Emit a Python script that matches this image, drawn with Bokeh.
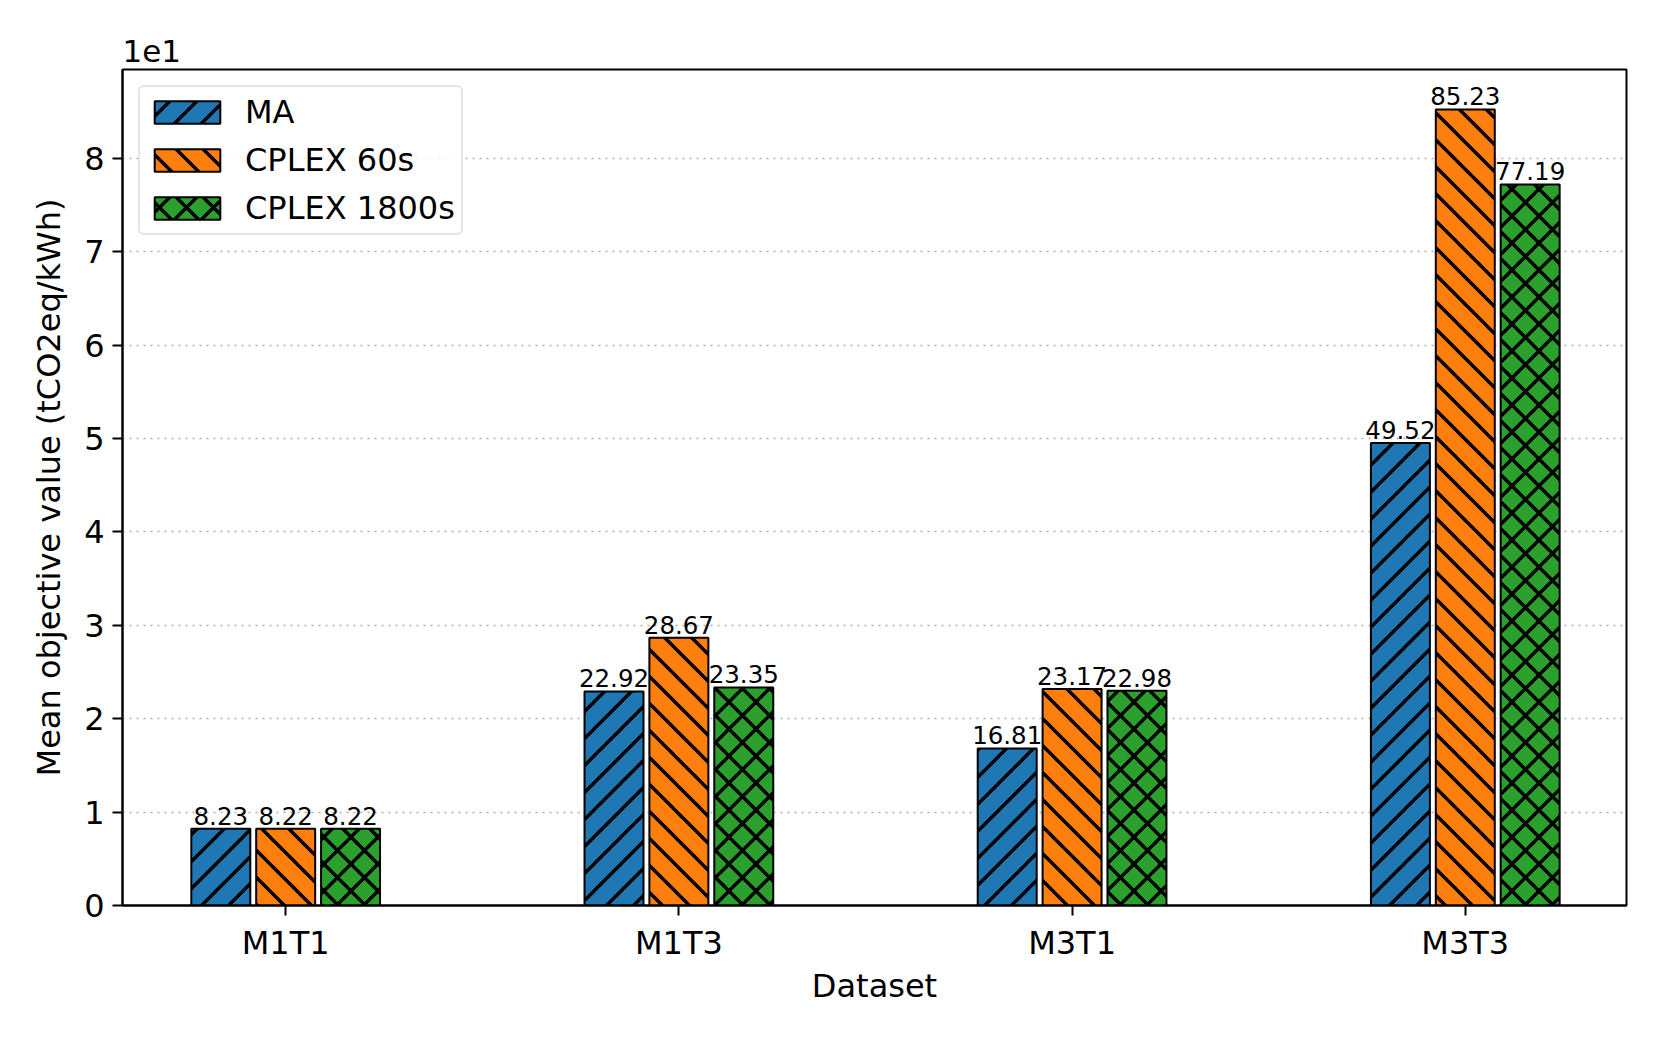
import base64
from bokeh.plotting import figure
from bokeh.models import (Range1d, FixedTicker, Legend, LegendItem,
                          ColumnDataSource, ImageURLTexture)
from bokeh.transform import dodge
from bokeh.core.properties import value
from bokeh.embed import file_html
from bokeh.resources import INLINE

# ---- data ----
datasets = ["M1T1", "M1T3", "M3T1", "M3T3"]
ma = [8.23, 22.92, 16.81, 49.52]
cplex_60s = [8.22, 28.67, 23.17, 85.23]
cplex_1800s = [8.22, 23.35, 22.98, 77.19]
series_names = ["MA", "CPLEX 60s", "CPLEX 1800s"]
y_ticks = [0, 1, 2, 3, 4, 5, 6, 7, 8]
scale_exp = 1  # axis shown in units of 1e1

# ---- style ----
colors = ["#1f77b4", "#ff7f0e", "#2ca02c"]
FONT = "DejaVu Sans"
factor = 10 ** scale_exp
offsets = [-0.165, 0.0, 0.165]
bar_w = 0.15

# 45-degree hatch textures (matplotlib-like "//", "\\", "xx")
T = 27
SW = 3.4
fwd = (f'<line x1="-5" y1="5" x2="5" y2="-5"/>'
       f'<line x1="-5" y1="{T+5}" x2="{T+5}" y2="-5"/>'
       f'<line x1="{T-5}" y1="{T+5}" x2="{T+5}" y2="{T-5}"/>')
bwd = (f'<line x1="-5" y1="-5" x2="{T+5}" y2="{T+5}"/>'
       f'<line x1="{T-5}" y1="-5" x2="{T+5}" y2="5"/>'
       f'<line x1="-5" y1="{T-5}" x2="5" y2="{T+5}"/>')


def tex(body):
    svg = (f'<svg xmlns="http://www.w3.org/2000/svg" width="{T}" height="{T}" '
           f'viewBox="0 0 {T} {T}"><g stroke="black" stroke-width="{SW}" '
           f'fill="none">{body}</g></svg>')
    return ImageURLTexture(url="data:image/svg+xml;base64," +
                           base64.b64encode(svg.encode()).decode())


hatch_extra = {"mpl_fwd": tex(fwd), "mpl_bwd": tex(bwd),
               "mpl_cross": tex(fwd + bwd)}
hatches = ["mpl_fwd", "mpl_bwd", "mpl_cross"]

xs = list(range(len(datasets)))
series = [ma, cplex_60s, cplex_1800s]

p = figure(width=1645, height=1022, output_backend="svg", toolbar_location=None,
           x_range=Range1d(-0.415, 3.41), y_range=Range1d(0, 8.95),
           min_border_left=122, min_border_right=19, min_border_top=69,
           min_border_bottom=117)

p.background_fill_color = "white"
p.border_fill_color = "white"
p.outline_line_color = "black"
p.outline_line_width = 2

legend_items = []
for name, vals, col, hat, off in zip(series_names, series, colors, hatches, offsets):
    src = ColumnDataSource(dict(
        x=xs,
        y=[v / factor for v in vals],
        lab=[f"{v:.2f}" for v in vals],
    ))
    r = p.vbar(x=dodge("x", off, range=p.x_range), top="y", width=bar_w, source=src,
               fill_color=col, line_color="black", line_width=2,
               hatch_pattern=value(hat), hatch_extra=hatch_extra)
    p.text(x=dodge("x", off, range=p.x_range), y="y", text="lab", source=src,
           text_align="center", text_baseline="bottom", y_offset=-4,
           text_font=value(FONT), text_font_size="24.5px", text_color="black")
    legend_items.append(LegendItem(label=name, renderers=[r]))

legend = Legend(items=legend_items, location="top_left", margin=16, padding=6,
                spacing=10, glyph_width=82, glyph_height=28, label_height=28,
                label_standoff=17, label_text_font=FONT,
                label_text_font_size="32px", label_text_color="black",
                border_line_color="#cccccc", border_line_width=2,
                border_radius=6, background_fill_alpha=0.85)
p.add_layout(legend)

# title as the offset text "1e1"
p.title.text = f"1e{scale_exp}"
p.title.align = "left"
p.title.text_font = FONT
p.title.text_font_size = "31px"
p.title.text_font_style = "normal"
p.title.text_color = "black"
p.title.standoff = 15
p.title.offset = 0

# axes
for ax in (p.xaxis[0], p.yaxis[0]):
    ax.axis_line_width = 2
    ax.major_tick_line_width = 2
    ax.major_tick_out = 10
    ax.major_tick_in = 0
    ax.minor_tick_line_color = None
    ax.major_label_text_font = FONT
    ax.major_label_text_font_size = "32px"
    ax.major_label_text_color = "black"
    ax.axis_label_text_font = FONT
    ax.axis_label_text_font_size = "32px"
    ax.axis_label_text_font_style = "normal"
    ax.axis_label_text_color = "black"
    ax.major_label_standoff = 8

p.xaxis.ticker = FixedTicker(ticks=xs)
p.xaxis.major_label_overrides = {i: d for i, d in zip(xs, datasets)}
p.xaxis.axis_label = "Dataset"
p.xaxis.axis_label_standoff = 2

p.yaxis.ticker = FixedTicker(ticks=y_ticks)
p.yaxis.axis_label = "Mean objective value (tCO2eq/kWh)"
p.yaxis.axis_label_standoff = 13

p.xgrid.grid_line_color = None
p.ygrid.grid_line_color = "#b0b0b0"
p.ygrid.grid_line_dash = "2 5"
p.ygrid.grid_line_width = 1.5

open("out.html", "w").write(file_html(p, INLINE))
